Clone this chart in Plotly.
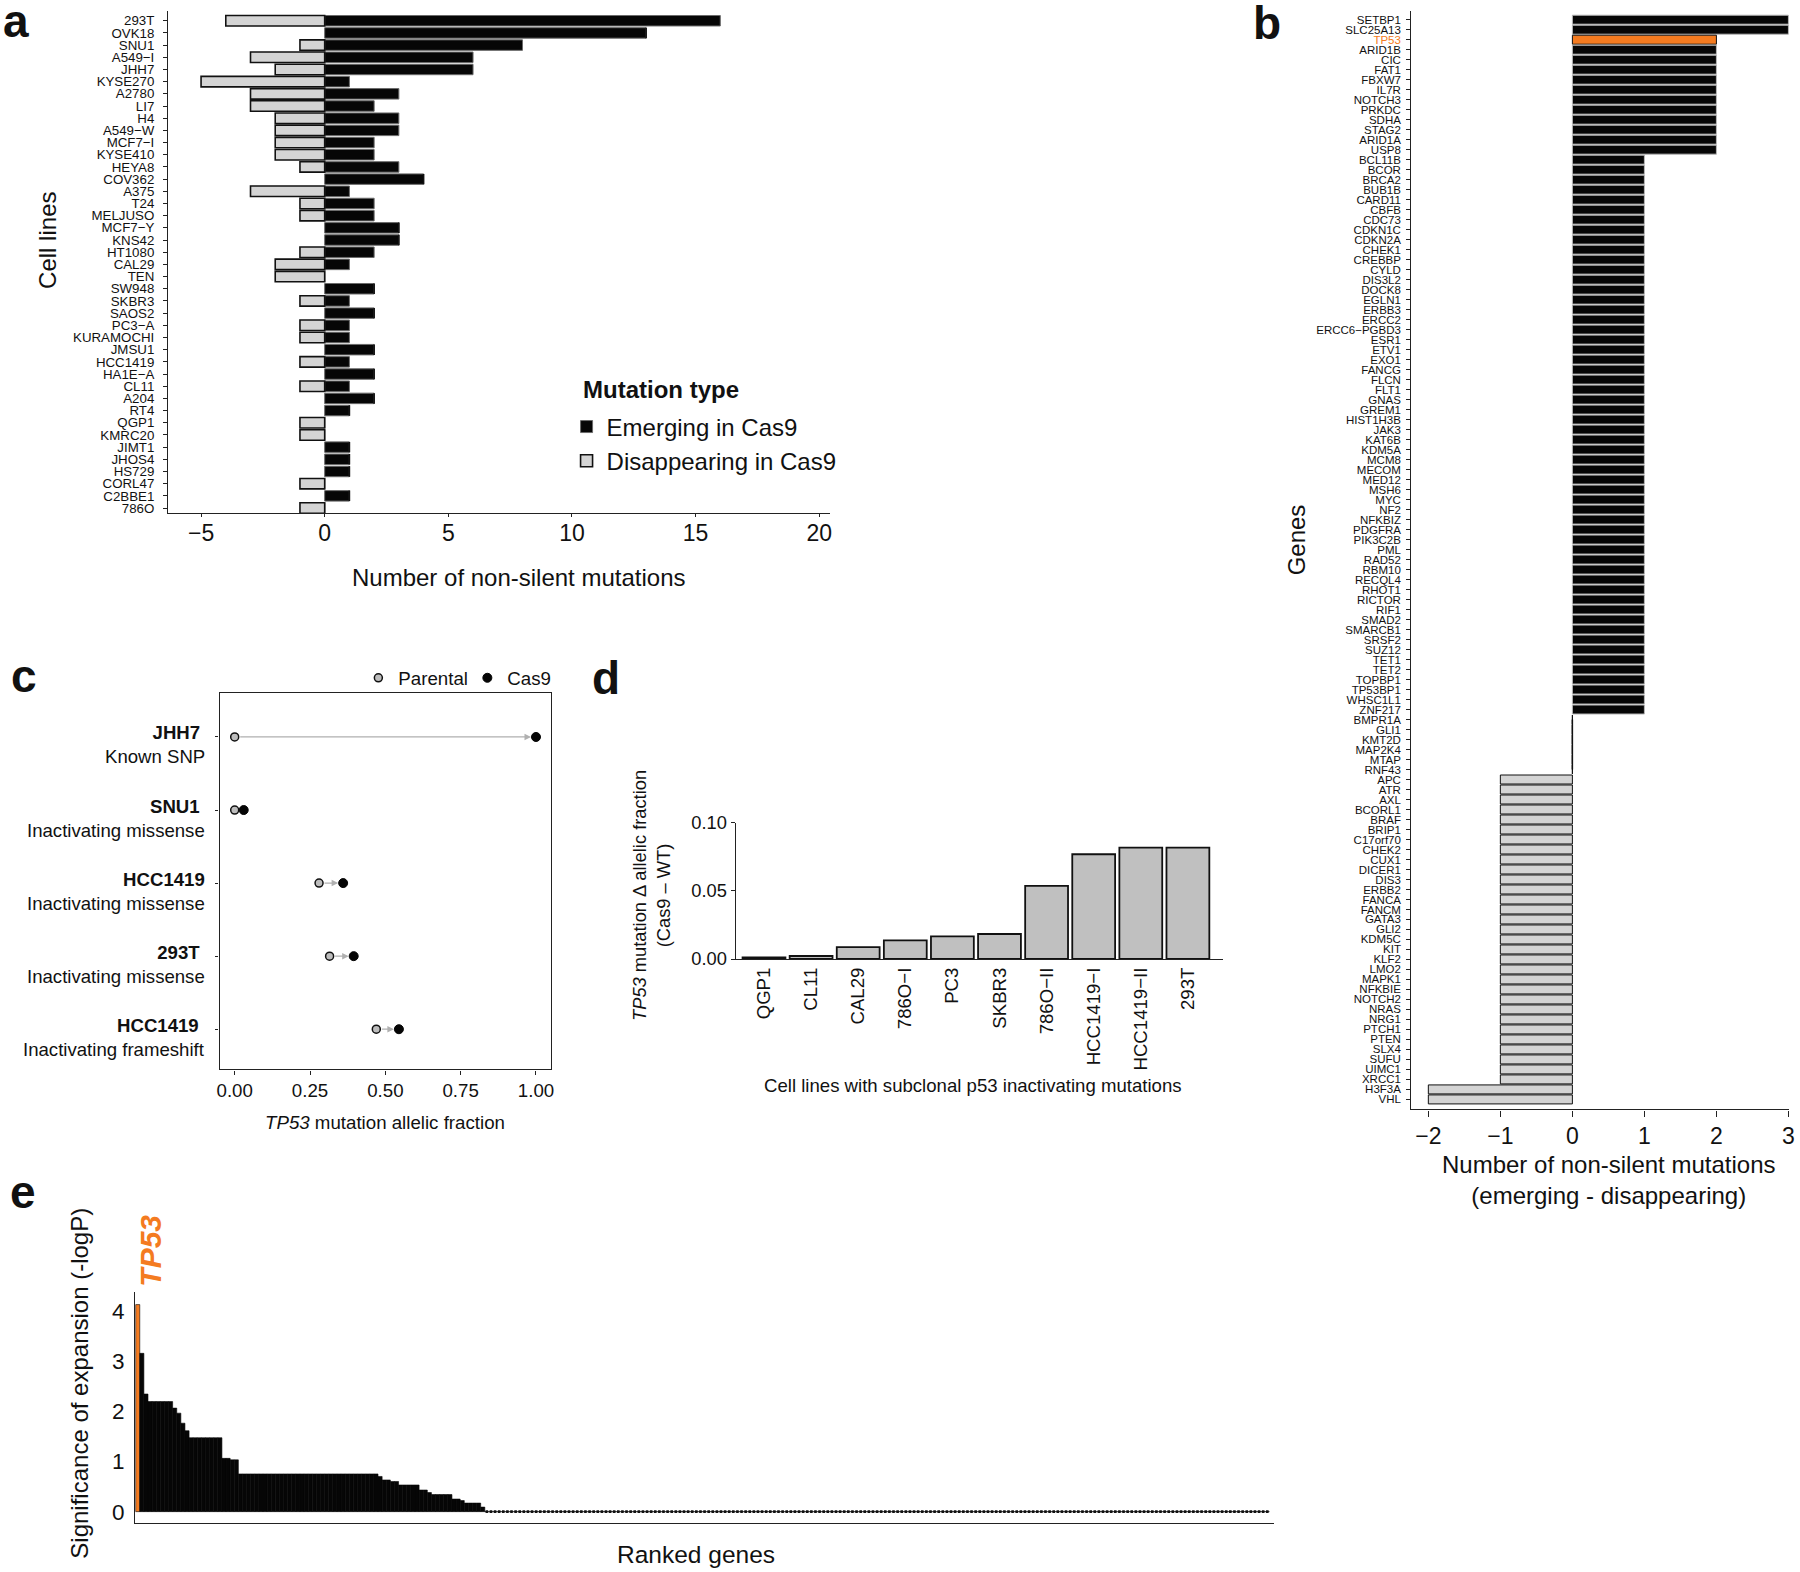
import plotly.graph_objects as go

W, H = 1800, 1572
# measured placement of the figure in the photographed page (scale, offset)
SX, OX = 0.994, 3.0
SY, OY = 0.986, 11.3
FONT = "Liberation Sans, Arial, Helvetica, sans-serif"
ORANGE = "#F47B20"
BLACK = "#060606"
LIGHT = "#d4d4d4"
MID = "#c0c0c0"

# ---------------- Panel a data ----------------
cell_lines = ["293T", "OVK18", "SNU1", "A549\u2212I", "JHH7", "KYSE270", "A2780", "LI7", "H4",
              "A549\u2212W", "MCF7\u2212I", "KYSE410", "HEYA8", "COV362", "A375", "T24", "MELJUSO",
              "MCF7\u2212Y", "KNS42", "HT1080", "CAL29", "TEN", "SW948", "SKBR3", "SAOS2",
              "PC3\u2212A", "KURAMOCHI", "JMSU1", "HCC1419", "HA1E\u2212A", "CL11", "A204", "RT4",
              "QGP1", "KMRC20", "JIMT1", "JHOS4", "HS729", "CORL47", "C2BBE1", "786O"]
emerging = [16, 13, 8, 6, 6, 1, 3, 2, 3, 3, 2, 2, 3, 4, 1, 2, 2, 3, 3, 2, 1, 0, 2, 1, 2,
            1, 1, 2, 1, 2, 1, 2, 1, 0, 0, 1, 1, 1, 0, 1, 0]
disappearing = [4, 0, 1, 3, 2, 5, 3, 3, 2, 2, 2, 2, 1, 0, 3, 1, 1, 0, 0, 1, 2, 2, 0, 1, 0,
                1, 1, 0, 1, 0, 1, 0, 0, 1, 1, 0, 0, 0, 1, 0, 1]
a_xticks = [-5, 0, 5, 10, 15, 20]

# ---------------- Panel b data ----------------
genes = ["SETBP1", "SLC25A13", "TP53", "ARID1B", "CIC", "FAT1", "FBXW7", "IL7R", "NOTCH3", "PRKDC",
         "SDHA", "STAG2", "ARID1A", "USP8", "BCL11B", "BCOR", "BRCA2", "BUB1B", "CARD11", "CBFB",
         "CDC73", "CDKN1C", "CDKN2A", "CHEK1", "CREBBP", "CYLD", "DIS3L2", "DOCK8", "EGLN1", "ERBB3",
         "ERCC2", "ERCC6\u2212PGBD3", "ESR1", "ETV1", "EXO1", "FANCG", "FLCN", "FLT1", "GNAS", "GREM1",
         "HIST1H3B", "JAK3", "KAT6B", "KDM5A", "MCM8", "MECOM", "MED12", "MSH6", "MYC", "NF2",
         "NFKBIZ", "PDGFRA", "PIK3C2B", "PML", "RAD52", "RBM10", "RECQL4", "RHOT1", "RICTOR", "RIF1",
         "SMAD2", "SMARCB1", "SRSF2", "SUZ12", "TET1", "TET2", "TOPBP1", "TP53BP1", "WHSC1L1", "ZNF217",
         "BMPR1A", "GLI1", "KMT2D", "MAP2K4", "MTAP", "RNF43", "APC", "ATR", "AXL", "BCORL1",
         "BRAF", "BRIP1", "C17orf70", "CHEK2", "CUX1", "DICER1", "DIS3", "ERBB2", "FANCA", "FANCM",
         "GATA3", "GLI2", "KDM5C", "KIT", "KLF2", "LMO2", "MAPK1", "NFKBIE", "NOTCH2", "NRAS",
         "NRG1", "PTCH1", "PTEN", "SLX4", "SUFU", "UIMC1", "XRCC1", "H3F3A", "VHL"]
gene_net = ([3, 3] + [2] * 12 + [1] * 56 + [0] * 6 + [-1] * 31 + [-2] * 2)
highlight_gene = "TP53"
b_xticks = [-2, -1, 0, 1, 2, 3]

# ---------------- Panel c data ----------------
c_lines = ["JHH7", "SNU1", "HCC1419", "293T", "HCC1419"]
c_types = ["Known SNP", "Inactivating missense", "Inactivating missense",
           "Inactivating missense", "Inactivating frameshift"]
c_parental = [0.0, 0.0, 0.28, 0.315, 0.47]
c_cas9 = [1.0, 0.03, 0.36, 0.395, 0.545]
c_xticks = [0.0, 0.25, 0.5, 0.75, 1.0]

# ---------------- Panel d data ----------------
d_lines = ["QGP1", "CL11", "CAL29", "786O\u2212I", "PC3", "SKBR3", "786O\u2212II",
           "HCC1419\u2212I", "HCC1419\u2212II", "293T"]
d_delta = [0.0012, 0.0022, 0.0088, 0.0137, 0.0167, 0.0184, 0.0537, 0.077, 0.0819, 0.0819]
d_yticks = [0.0, 0.05, 0.10]

# ---------------- Panel e data ----------------
e_values = ([4.12, 3.15, 2.34] + [2.19] * 6 + [2.06, 1.96, 1.76, 1.61] + [1.47] * 8
            + [1.06] * 2 + [1.03] * 2 + [0.75] * 34 + [0.70] + [0.63] * 2 + [0.60] * 2
            + [0.53] * 5 + [0.43] * 2 + [0.38] + [0.34] * 5 + [0.25] * 2 + [0.22]
            + [0.17] * 4 + [0.09] + [0.0] * 191)
e_top_gene = "TP53"
e_yticks = [0, 1, 2, 3, 4]


def clamp(v):
    return min(1.0, max(0.0, v))


def px(x):
    return ((x - OX) / SX) / W


def py(y):
    return 1 - ((y - OY) / SY) / H


def dom_x(a, b):
    return [clamp(px(a)), clamp(px(b))]


def dom_y(bottom, top):
    return [clamp(py(bottom)), clamp(py(top))]


fig = go.Figure()

# ---- Panel a ----
fig.add_trace(go.Bar(y=cell_lines, x=emerging, orientation="h", width=0.86,
                     marker=dict(color=BLACK, line=dict(color="#6a6a6a", width=1)),
                     name="Emerging in Cas9", xaxis="x", yaxis="y", legend="legend"))
fig.add_trace(go.Bar(y=cell_lines, x=[-v for v in disappearing], orientation="h", width=0.86,
                     marker=dict(color=LIGHT, line=dict(color="#111", width=1.6)),
                     name="Disappearing in Cas9", xaxis="x", yaxis="y", legend="legend"))

# ---- Panel b ----
b_colors, b_lines = [], []
for g, v in zip(genes, gene_net):
    if g == highlight_gene:
        b_colors.append(ORANGE); b_lines.append("#111")
    elif v > 0:
        b_colors.append(BLACK); b_lines.append("#b8b8b8")
    else:
        b_colors.append(LIGHT); b_lines.append("#111")
fig.add_trace(go.Bar(y=genes, x=gene_net, orientation="h", width=0.9,
                     marker=dict(color=b_colors, line=dict(color=b_lines, width=1)),
                     showlegend=False, xaxis="x2", yaxis="y2"))
zero_genes = [g for g, v in zip(genes, gene_net) if v == 0]
fig.add_trace(go.Scatter(y=zero_genes, x=[0] * len(zero_genes), mode="lines",
                         line=dict(color="#111", width=1.5), showlegend=False,
                         xaxis="x2", yaxis="y2", hoverinfo="skip"))

# ---- Panel c ----
c_idx = list(range(len(c_lines)))
fig.add_trace(go.Scatter(x=c_parental, y=c_idx, mode="markers", name="Parental",
                         marker=dict(size=8, color="#bdbdbd", line=dict(color="#111", width=1.5)),
                         xaxis="x3", yaxis="y3", legend="legend2"))
fig.add_trace(go.Scatter(x=c_cas9, y=c_idx, mode="markers", name="Cas9",
                         marker=dict(size=9, color="#050505", line=dict(color="#050505", width=1)),
                         xaxis="x3", yaxis="y3", legend="legend2"))

# ---- Panel d ----
fig.add_trace(go.Bar(x=d_lines, y=d_delta, width=0.91,
                     marker=dict(color=MID, line=dict(color="#111", width=1.8)),
                     showlegend=False, xaxis="x4", yaxis="y4"))

# ---- Panel e ----
e_rank = list(range(1, len(e_values) + 1))
e_colors = [ORANGE if i == 0 else BLACK for i in range(len(e_values))]
fig.add_trace(go.Bar(x=e_rank, y=e_values, width=1,
                     marker=dict(color=e_colors, line=dict(color=BLACK, width=0.6)),
                     showlegend=False, xaxis="x5", yaxis="y5"))
e_zero_rank = [r for r, v in zip(e_rank, e_values) if v == 0]
fig.add_trace(go.Scatter(x=e_zero_rank, y=[0] * len(e_zero_rank), mode="markers",
                         marker=dict(symbol="square", size=2.6, color="#111", line=dict(width=0)),
                         showlegend=False, xaxis="x5", yaxis="y5", hoverinfo="skip"))

axis_common = dict(showgrid=False, zeroline=False, showline=True, linecolor="#222",
                   linewidth=1.4, tickcolor="#222", ticklabeloverflow="allow")

b_ticktext = [f"<span style='color:{ORANGE}'>{g}</span>" if g == highlight_gene else g
              for g in genes]

fig.update_layout(
    width=W, height=H, margin=dict(l=0, r=0, t=0, b=0),
    paper_bgcolor="white", plot_bgcolor="white",
    font=dict(family=FONT, color="#111"),
    barmode="relative",
    xaxis=dict(domain=dom_x(168, 829.5), anchor="y", range=[-6.33, 20.45],
               tickmode="array", tickvals=a_xticks, ticks="outside", ticklen=3,
               ticklabelstandoff=-4, tickfont=dict(size=23), **axis_common),
    yaxis=dict(domain=dom_y(513, 11.3), anchor="x", type="category",
               categoryorder="array", categoryarray=cell_lines, range=[40.41, -0.8],
               tickmode="array", tickvals=cell_lines,
               ticks="outside", ticklen=4, tickfont=dict(size=13.3), ticklabelstandoff=6,
               **axis_common),
    xaxis2=dict(domain=dom_x(1410, 1787), anchor="y2", range=[-2.235, 3.005],
                tickmode="array", tickvals=b_xticks, ticks="outside", ticklen=6,
                tickfont=dict(size=23), **axis_common),
    yaxis2=dict(domain=dom_y(1109, 11.3), anchor="x2", type="category",
                categoryorder="array", categoryarray=genes, range=[109.0, -0.87],
                tickmode="array", tickvals=genes, ticktext=b_ticktext,
                ticks="outside", ticklen=4, ticklabelstandoff=3,
                tickfont=dict(size=11.5), **axis_common),
    xaxis3=dict(domain=dom_x(219.4, 550.5), anchor="y3", range=[-0.05, 1.05],
                tickmode="array", tickvals=c_xticks,
                ticktext=[f"{v:.2f}" for v in c_xticks], ticks="outside", ticklen=4,
                tickfont=dict(size=18.7), mirror=True, **axis_common),
    yaxis3=dict(domain=dom_y(1069, 693), anchor="x3", range=[4.55, -0.6],
                tickmode="array", tickvals=c_idx, ticktext=[""] * len(c_idx),
                ticks="outside", ticklen=3, mirror=True, **axis_common),
    xaxis4=dict(domain=dom_x(735, 1222), anchor="y4", type="category",
                range=[-0.6, 9.75], tickangle=-90, ticks="",
                tickfont=dict(size=18.6), **axis_common),
    yaxis4=dict(domain=dom_y(958.7, 822.7), anchor="x4", range=[0, 0.10],
                tickmode="array", tickvals=d_yticks,
                ticktext=[f"{v:.2f}" for v in d_yticks], ticks="outside", ticklen=4,
                tickfont=dict(size=18.3), **axis_common),
    xaxis5=dict(domain=dom_x(135, 1273), anchor="y5", range=[0.37, 277.7],
                showticklabels=False, ticks="", **axis_common),
    yaxis5=dict(domain=dom_y(1522, 1291), anchor="x5", range=[-0.22, 4.38],
                tickmode="array", tickvals=e_yticks, ticks="", ticklabelstandoff=5,
                tickfont=dict(size=22.5), **axis_common),
    legend=dict(x=px(566), y=py(404.5), xanchor="left", yanchor="top",
                font=dict(size=24), bgcolor="rgba(0,0,0,0)", traceorder="normal",
                tracegroupgap=0),
    legend2=dict(orientation="h", x=px(358), y=py(678), xanchor="left", yanchor="middle",
                 font=dict(size=18.7), bgcolor="rgba(0,0,0,0)", entrywidth=64),
)

ann = []


def label(text, x, y, size, bold=False, angle=0, color="#111", xanchor="center", italic=False):
    t = text
    if italic:
        t = f"<i>{t}</i>"
    if bold:
        t = f"<b>{t}</b>"
    ann.append(dict(text=t, x=px(x), y=py(y), xref="paper", yref="paper", showarrow=False,
                    xanchor=xanchor, yanchor="middle", textangle=angle,
                    font=dict(size=size, color=color, family=FONT)))


# panel letters
label("a", 16, 21.5, 46, bold=True)
label("b", 1266, 23.5, 46, bold=True)
label("c", 24, 676.2, 46, bold=True)
label("d", 605, 677.6, 46, bold=True)
label("e", 23, 1192, 46, bold=True)

# panel a texts
label("Number of non-silent mutations", 518, 577.5, 24)
label("Cell lines", 48, 241, 24, angle=-90)
label("Mutation type", 580, 390, 24, bold=True, xanchor="left")

# panel b texts
label("Number of non-silent mutations<br>(emerging - disappearing)", 1607, 1180, 24)
label("Genes", 1295, 540, 24, angle=-90)

# panel c texts: row labels (cell line + mutation type), right-aligned beside each row
for i, (n, t) in enumerate(zip(c_lines, c_types)):
    pad = "" if i == 2 else "\u00a0"
    ann.append(dict(text=f"<b>{n}</b>{pad}<br>{t}", x=px(207), y=i, xref="paper", yref="y3",
                    xanchor="right", yanchor="middle", align="right", showarrow=False,
                    yshift=-8, font=dict(size=18.6, color="#111", family=FONT)))
label("<i>TP53</i> mutation allelic fraction", 385, 1122, 18.7)

# panel d texts
label("Cell lines with subclonal p53 inactivating mutations", 972, 1085, 18.6)
label("<i>TP53</i> mutation \u0394 allelic fraction<br>(Cas9 \u2013 WT)", 651, 895, 18.3, angle=-90)

# panel e texts
label("Ranked genes", 695, 1554, 24.5)
label("Significance of expansion (-logP)", 80, 1383, 24, angle=-90)
label(e_top_gene, 150, 1250, 30, bold=True, italic=True, angle=-90, color=ORANGE)

# arrows panel c
for i in c_idx:
    if abs(c_cas9[i] - c_parental[i]) < 0.05:
        continue
    ann.append(dict(x=c_cas9[i], y=i, ax=c_parental[i], ay=i, xref="x3", yref="y3",
                    axref="x3", ayref="y3", showarrow=True, arrowhead=2, arrowsize=1,
                    arrowwidth=1.3, arrowcolor="#b0b0b0", standoff=5, startstandoff=4, text=""))

fig.update_layout(annotations=ann)

fig.write_html("out.html", include_plotlyjs=True, config={"displayModeBar": False},
               post_script="document.body.style.margin='0px';")
